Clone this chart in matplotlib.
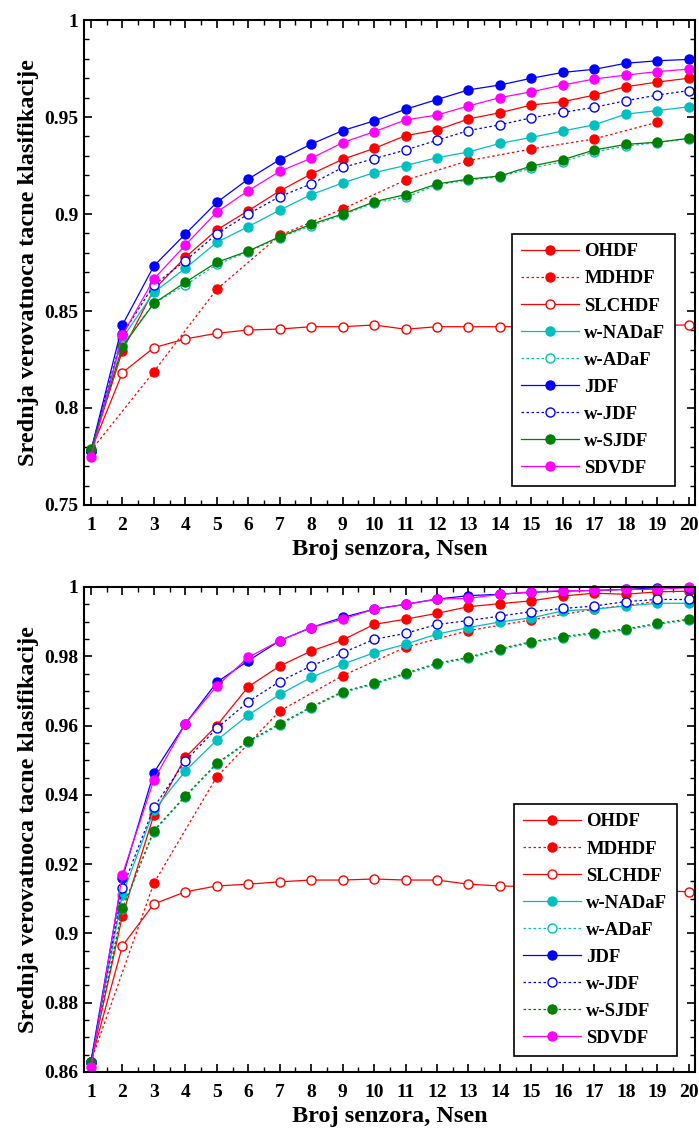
import numpy as np
import matplotlib
matplotlib.use('Agg')
import matplotlib.pyplot as plt
from matplotlib.ticker import MultipleLocator

plt.rcParams['font.family'] = ['Liberation Serif', 'DejaVu Serif']
plt.rcParams['font.weight'] = 'bold'

########## Data ##########
Nsen     = np.arange(1, 21)
Nsen_odd = np.arange(1, 21, 2)

Names = ['OHDF', 'MDHDF', 'SLCHDF', 'w-NADaF', 'w-ADaF', 'JDF', 'w-JDF', 'w-SJDF', 'SDVDF']

# upper panel
top_OHDF   = [0.778, 0.8295, 0.861, 0.8777, 0.8918, 0.9017, 0.9119, 0.9206, 0.9282, 0.9338,
              0.9404, 0.9433, 0.9490, 0.9522, 0.9562, 0.9579, 0.9613, 0.9656, 0.968, 0.970]
top_MDHDF  = [0.778, 0.8187, 0.8612, 0.889, 0.9026, 0.9175, 0.9275, 0.9335, 0.9387, 0.9473]
top_SLCHDF = [0.778, 0.8182, 0.8311, 0.8356, 0.8385, 0.8402, 0.8407, 0.8419, 0.8419, 0.8428,
              0.8406, 0.8419, 0.8419, 0.8419, 0.842, 0.842, 0.8422, 0.8424, 0.8426, 0.8428]
top_wNADaF = [0.778, 0.836, 0.8596, 0.872, 0.8854, 0.8935, 0.902, 0.910, 0.916, 0.9213,
              0.925, 0.929, 0.932, 0.9364, 0.9395, 0.9428, 0.946, 0.9515, 0.9533, 0.9553]
top_wADaF  = [0.778, 0.8325, 0.854, 0.8634, 0.874, 0.8805, 0.8878, 0.894, 0.8995, 0.9058,
              0.9086, 0.915, 0.9175, 0.9192, 0.9237, 0.927, 0.932, 0.935, 0.9368, 0.9388]
top_JDF    = [0.778, 0.8428, 0.8732, 0.8897, 0.906, 0.918, 0.928, 0.936, 0.943, 0.948,
              0.954, 0.959, 0.964, 0.9665, 0.970, 0.973, 0.9746, 0.9777, 0.979, 0.9797]
top_wJDF   = [0.778, 0.838, 0.8634, 0.8759, 0.8897, 0.900, 0.909, 0.9155, 0.924, 0.9285,
              0.933, 0.938, 0.943, 0.946, 0.9496, 0.9524, 0.955, 0.9584, 0.9613, 0.9636]
top_wSJDF  = [0.7787, 0.8316, 0.854, 0.8648, 0.8751, 0.8809, 0.8883, 0.8947, 0.900, 0.9063,
              0.910, 0.9155, 0.918, 0.9196, 0.9247, 0.928, 0.933, 0.9359, 0.937, 0.939]
top_SDVDF  = [0.7747, 0.8376, 0.8665, 0.884, 0.901, 0.912, 0.922, 0.9287, 0.9368, 0.9424,
              0.9485, 0.951, 0.9557, 0.960, 0.963, 0.9665, 0.9696, 0.9716, 0.9734, 0.9747]

# lower panel
bot_OHDF   = [0.863, 0.9051, 0.9342, 0.9508, 0.960, 0.9712, 0.9772, 0.9815, 0.9847, 0.9892,
              0.9907, 0.9924, 0.9943, 0.9952, 0.996, 0.9974, 0.9982, 0.9979, 0.9986, 0.9988]
bot_MDHDF  = [0.863, 0.9145, 0.9452, 0.9642, 0.9744, 0.9826, 0.9874, 0.9905, 0.9936, 0.9958]
bot_SLCHDF = [0.863, 0.8964, 0.9085, 0.912, 0.9137, 0.9142, 0.9149, 0.9154, 0.9154, 0.9157,
              0.9154, 0.9154, 0.9142, 0.9137, 0.9135, 0.9132, 0.913, 0.9127, 0.9124, 0.912]
bot_wNADaF = [0.863, 0.9111, 0.9355, 0.9469, 0.9558, 0.963, 0.969, 0.9739, 0.9777, 0.981,
              0.9835, 0.9864, 0.9883, 0.9899, 0.9911, 0.9931, 0.9936, 0.9945, 0.9953, 0.9953]
bot_wADaF  = [0.863, 0.907, 0.9294, 0.9394, 0.9488, 0.9552, 0.9602, 0.9651, 0.9695, 0.9719,
              0.9748, 0.9777, 0.9794, 0.9819, 0.9839, 0.9854, 0.9865, 0.9876, 0.9892, 0.9904]
bot_JDF    = [0.863, 0.916, 0.9464, 0.9605, 0.9725, 0.9787, 0.9845, 0.9883, 0.9912, 0.9936,
              0.995, 0.9965, 0.9975, 0.9979, 0.9985, 0.9988, 0.999, 0.9993, 0.9998, 0.9998]
bot_wJDF   = [0.863, 0.913, 0.9364, 0.9498, 0.9592, 0.9669, 0.9727, 0.9772, 0.981, 0.9849,
              0.9866, 0.9892, 0.9903, 0.9916, 0.9929, 0.9938, 0.9945, 0.9958, 0.9964, 0.9964]
bot_wSJDF  = [0.863, 0.9072, 0.9297, 0.9397, 0.9491, 0.9555, 0.9605, 0.9654, 0.9698, 0.9722,
              0.9751, 0.978, 0.9797, 0.9822, 0.9842, 0.9857, 0.9868, 0.9879, 0.9895, 0.9907]
bot_SDVDF  = [0.8613, 0.917, 0.9443, 0.9605, 0.9714, 0.9797, 0.9845, 0.9883, 0.9907, 0.9936,
              0.995, 0.9965, 0.9967, 0.9979, 0.9986, 0.9989, 0.999, 0.9993, 0.9993, 0.9999]

########## Styles ##########
dot = (0, (2, 2))
red, cyan, blue, green, magenta = '#ff0000', '#00bfbf', '#0000ff', '#008000', '#ff00ff'
# colour, linestyle, filled marker
top_styles = [(red, '-', True), (red, dot, True), (red, '-', False), (cyan, '-', True), (cyan, dot, False),
              (blue, '-', True), (blue, dot, False), (green, '-', True), (magenta, '-', True)]
bot_styles = [(red, '-', True), (red, dot, True), (red, '-', False), (cyan, '-', True), (cyan, dot, False),
              (blue, '-', True), (blue, dot, False), (green, dot, True), (magenta, '-', True)]

top_data = [top_OHDF, top_MDHDF, top_SLCHDF, top_wNADaF, top_wADaF, top_JDF, top_wJDF, top_wSJDF, top_SDVDF]
bot_data = [bot_OHDF, bot_MDHDF, bot_SLCHDF, bot_wNADaF, bot_wADaF, bot_JDF, bot_wJDF, bot_wSJDF, bot_SDVDF]


def draw_panel(ax, data, styles, ylim, minor, yticks, yticklabels, leg_anchor):
    for name, y, (col, ls, filled) in zip(Names, data, styles):
        x = Nsen_odd if name == 'MDHDF' else Nsen
        ax.plot(x, y, color=col, linestyle=ls, linewidth=0.9, marker='o', markersize=6.5,
                markerfacecolor=col if filled else 'white', markeredgecolor=col,
                markeredgewidth=1.0, label=name, clip_on=False)
    ax.set_xlim(0.78, 20.2)
    ax.set_ylim(*ylim)
    ax.set_xticks(Nsen)
    ax.xaxis.set_minor_locator(MultipleLocator(0.5))
    ax.set_yticks(yticks)
    ax.set_yticklabels(yticklabels)
    ax.yaxis.set_minor_locator(MultipleLocator(minor))
    ax.tick_params(which='both', direction='in', top=True, right=True, labelsize=14)
    ax.tick_params(axis='x', pad=8.5)
    ax.tick_params(axis='y', pad=4)
    ax.tick_params(which='major', length=6, width=1.2)
    ax.tick_params(which='minor', length=3.5, width=1.0)
    for s in ax.spines.values():
        s.set_linewidth(1.5)
    ax.set_xlabel('Broj senzora, Nsen', fontsize=17.5, fontweight='bold', labelpad=4)
    ax.set_ylabel('Srednja verovatnoca tacne klasifikacije', fontsize=17.5, fontweight='bold', labelpad=4)
    leg = ax.legend(loc='upper left', bbox_to_anchor=leg_anchor, fontsize=13.5, handlelength=3.05,
                    labelspacing=0.53, borderpad=0.5, handletextpad=0.3, fancybox=False,
                    framealpha=1, edgecolor='black', borderaxespad=0)
    leg.get_frame().set_linewidth(1.2)


fig = plt.figure(figsize=(6.99, 11.31), dpi=100)
ax1 = fig.add_axes([0.1202, 0.5535, 0.8741, 0.4288])
ax2 = fig.add_axes([0.1202, 0.0522, 0.8741, 0.4288])

draw_panel(ax1, top_data, top_styles, (0.75, 1.0), 0.01,
           [0.75, 0.8, 0.85, 0.9, 0.95, 1.0], ['0.75', '0.8', '0.85', '0.9', '0.95', '1'], (0.7005, 0.559))
draw_panel(ax2, bot_data, bot_styles, (0.86, 1.0), 0.005,
           [0.86, 0.88, 0.9, 0.92, 0.94, 0.96, 0.98, 1.0],
           ['0.86', '0.88', '0.9', '0.92', '0.94', '0.96', '0.98', '1'], (0.7038, 0.5526))

fig.savefig('out.png', dpi=100)
